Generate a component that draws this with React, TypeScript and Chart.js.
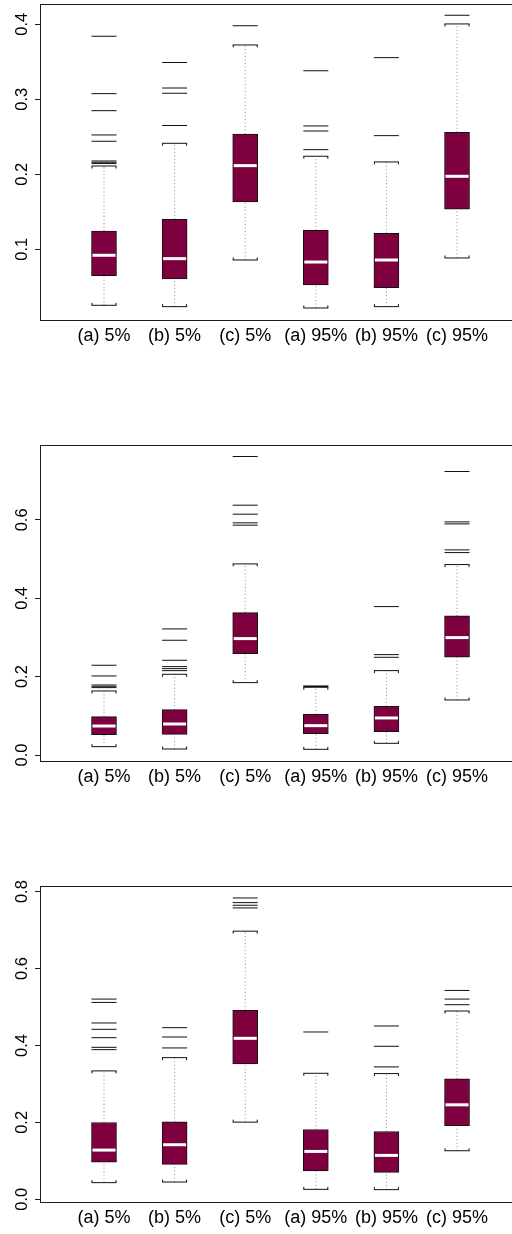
import React, { useEffect, useRef } from 'react';
import { Chart, registerables } from 'chart.js';

Chart.register(...registerables);

const categories = ['(a) 5%', '(b) 5%', '(c) 5%', '(a) 95%', '(b) 95%', '(c) 95%'];

// ---- Panel 1 ----
const p1Low = [0.0253, 0.0235, 0.0857, 0.0217, 0.0235, 0.0884];
const p1Q1 = [0.0648, 0.0604, 0.163, 0.0524, 0.0488, 0.1533];
const p1Med = [0.092, 0.0875, 0.2115, 0.083, 0.0857, 0.1973];
const p1Q3 = [0.1244, 0.14, 0.2537, 0.1253, 0.1213, 0.256];
const p1High = [0.211, 0.2413, 0.3724, 0.224, 0.2164, 0.4004];
const p1Out = [
  [0.384, 0.3075, 0.2848, 0.2524, 0.244, 0.2177, 0.216, 0.2143],
  [0.349, 0.315, 0.308, 0.265],
  [0.398],
  [0.338, 0.2644, 0.2577, 0.2328],
  [0.3555, 0.2515],
  [0.412],
];
const p1Ticks = [0.1, 0.2, 0.3, 0.4];
const p1Min = 0.0057;
const p1Max = 0.427;

// ---- Panel 2 ----
const p2Low = [0.0213, 0.0153, 0.1847, 0.0145, 0.0298, 0.1404];
const p2Q1 = [0.0519, 0.0527, 0.2587, 0.0545, 0.0596, 0.2494];
const p2Med = [0.074, 0.0791, 0.297, 0.0749, 0.0945, 0.2996];
const p2Q3 = [0.0979, 0.1157, 0.3634, 0.1038, 0.1242, 0.3549];
const p2High = [0.1634, 0.206, 0.4876, 0.1728, 0.2153, 0.4859];
const p2Out = [
  [0.229, 0.2017, 0.1787, 0.1753, 0.172],
  [0.3217, 0.2928, 0.2417, 0.2255, 0.2204, 0.2153],
  [0.7616, 0.6374, 0.6145, 0.5923, 0.5864],
  [0.1762, 0.1748],
  [0.3787, 0.2561, 0.2493],
  [0.7234, 0.5948, 0.5897, 0.5234, 0.5165],
];
const p2Ticks = [0.0, 0.2, 0.4, 0.6];
const p2Min = -0.0153;
const p2Max = 0.791;

// ---- Panel 3 ----
const p3Low = [0.0433, 0.0449, 0.2006, 0.0259, 0.0251, 0.1263];
const p3Q1 = [0.0968, 0.0908, 0.3521, 0.0735, 0.0701, 0.1912];
const p3Med = [0.128, 0.1419, 0.4186, 0.1245, 0.1142, 0.2457];
const p3Q3 = [0.1998, 0.2016, 0.4912, 0.1816, 0.1764, 0.3131];
const p3High = [0.3339, 0.3684, 0.6972, 0.3277, 0.3269, 0.4896];
const p3Out = [
  [0.5207, 0.512, 0.4585, 0.442, 0.4203, 0.3952, 0.3892],
  [0.4463, 0.422, 0.3936],
  [0.7836, 0.7715, 0.7646, 0.7577],
  [0.4351],
  [0.4507, 0.3979, 0.3443],
  [0.5431, 0.5207, 0.506],
];
const p3Ticks = [0.0, 0.2, 0.4, 0.6, 0.8];
const p3Min = -0.007;
const p3Max = 0.8147;

const FONT = "'Liberation Sans', Arial, Helvetica, sans-serif";
const BOX_FILL = '#7f003f';

type Panel = {
  low: number[]; q1: number[]; med: number[]; q3: number[]; high: number[];
  out: number[][]; ticks: number[]; min: number; max: number; top: number;
};

const PAD_TOP = 20;
const PLOT_H = 316;

const panels: Panel[] = [
  { low: p1Low, q1: p1Q1, med: p1Med, q3: p1Q3, high: p1High, out: p1Out, ticks: p1Ticks, min: p1Min, max: p1Max, top: 4 - PAD_TOP },
  { low: p2Low, q1: p2Q1, med: p2Med, q3: p2Q3, high: p2High, out: p2Out, ticks: p2Ticks, min: p2Min, max: p2Max, top: 445 - PAD_TOP },
  { low: p3Low, q1: p3Q1, med: p3Med, q3: p3Q3, high: p3High, out: p3Out, ticks: p3Ticks, min: p3Min, max: p3Max, top: 886 - PAD_TOP },
];

const CANVAS_W = 530;
const CANVAS_H = 366;

const framePlugin = {
  id: 'frame',
  afterDraw(chart: any) {
    const { ctx, chartArea } = chart;
    ctx.save();
    ctx.strokeStyle = '#1a1a1a';
    ctx.lineWidth = 1;
    ctx.strokeRect(
      Math.round(chartArea.left) + 0.5,
      Math.round(chartArea.top) + 0.5,
      Math.round(chartArea.right - chartArea.left),
      Math.round(chartArea.bottom - chartArea.top)
    );
    ctx.restore();
  },
};

// small bracket ends on the whisker caps
const capEndsPlugin = {
  id: 'capEnds',
  afterDatasetsDraw(chart: any, _args: any, opts: any) {
    const { ctx, scales } = chart;
    const low: number[] = opts.low || [];
    const high: number[] = opts.high || [];
    ctx.save();
    ctx.strokeStyle = '#111';
    ctx.lineWidth = 1;
    const half = 12.5;
    const draw = (v: number, i: number, dir: number) => {
      const x = scales.x.getPixelForValue(i + 1);
      const y = scales.y.getPixelForValue(v);
      ctx.beginPath();
      ctx.moveTo(x - half + 0.5, y);
      ctx.lineTo(x - half + 0.5, y + dir * 2.5);
      ctx.moveTo(x + half - 0.5, y);
      ctx.lineTo(x + half - 0.5, y + dir * 2.5);
      ctx.stroke();
    };
    high.forEach((v, i) => draw(v, i, 1));
    low.forEach((v, i) => draw(v, i, -1));
    ctx.restore();
  },
};

function BoxPanel({ p }: { p: Panel }) {
  const ref = useRef<HTMLCanvasElement | null>(null);
  useEffect(() => {
    if (!ref.current) return;
    const boxes = categories.map((_, i) => ({ x: i + 1, y: [p.q1[i], p.q3[i]] }));
    const medians = categories.map((_, i) => ({ x: i + 1, y: p.med[i] }));
    const caps = categories.flatMap((_, i) => [
      { x: i + 1, y: p.low[i] },
      { x: i + 1, y: p.high[i] },
    ]);
    const outliers = p.out.flatMap((arr, i) => arr.map((v) => ({ x: i + 1, y: v })));
    const whiskers = categories.flatMap((_, i) => [
      { x: i + 1, y: p.low[i] },
      { x: i + 1, y: p.q1[i] },
      { x: i + 1, y: null },
      { x: i + 1, y: p.q3[i] },
      { x: i + 1, y: p.high[i] },
      { x: i + 1, y: null },
    ]);

    const chart = new Chart(ref.current, {
      type: 'bar',
      data: {
        datasets: [
          {
            type: 'scatter',
            data: medians,
            pointStyle: 'line',
            radius: 11.5,
            borderWidth: 3,
            borderColor: '#ffffff',
            backgroundColor: '#ffffff',
            order: 0,
          } as any,
          {
            type: 'scatter',
            data: caps,
            pointStyle: 'line',
            radius: 12.5,
            borderWidth: 1,
            borderColor: '#111111',
            order: 1,
          } as any,
          {
            type: 'scatter',
            data: outliers,
            pointStyle: 'line',
            radius: 12.5,
            borderWidth: 1,
            borderColor: '#111111',
            order: 1,
          } as any,
          {
            type: 'bar',
            data: boxes,
            backgroundColor: BOX_FILL,
            borderColor: '#111111',
            borderWidth: 1,
            borderSkipped: false,
            barThickness: 25,
            order: 2,
          } as any,
          {
            type: 'line',
            data: whiskers,
            borderColor: '#8a8a8a',
            borderWidth: 1,
            borderDash: [1, 2.5],
            pointRadius: 0,
            spanGaps: false,
            fill: false,
            order: 3,
          } as any,
        ],
      },
      options: {
        responsive: false,
        animation: false,
        devicePixelRatio: 1,
        layout: { autoPadding: false, padding: { top: PAD_TOP, right: 16, bottom: 0, left: 0 } },
        plugins: {
          legend: { display: false },
          tooltip: { enabled: false },
          capEnds: { low: p.low, high: p.high },
        } as any,
        scales: {
          x: {
            type: 'linear',
            min: 0.0935,
            max: 6.807,
            offset: false,
            grid: { display: false, drawTicks: false },
            border: { display: false },
            afterBuildTicks: (scale: any) => {
              scale.ticks = categories.map((_, i) => ({ value: i + 1 }));
            },
            afterFit: (scale: any) => {
              scale.height = CANVAS_H - PAD_TOP - PLOT_H;
              scale.paddingLeft = 0;
              scale.paddingRight = 0;
            },
            ticks: {
              autoSkip: false,
              maxRotation: 0,
              minRotation: 0,
              padding: 5,
              color: '#000',
              font: { family: FONT, size: 18 },
              callback: (v: any) => categories[Math.round(Number(v)) - 1] ?? '',
            },
          },
          y: {
            type: 'linear',
            min: p.min,
            max: p.max,
            grid: {
              display: true,
              drawOnChartArea: false,
              drawTicks: true,
              tickLength: 5,
              color: '#1a1a1a',
            },
            border: { display: false },
            afterBuildTicks: (scale: any) => {
              scale.ticks = p.ticks.map((v) => ({ value: v }));
            },
            afterFit: (scale: any) => {
              scale.width = 40;
              scale.paddingTop = 0;
              scale.paddingBottom = 0;
            },
            ticks: {
              minRotation: 90,
              maxRotation: 90,
              crossAlign: 'center',
              padding: 1,
              color: '#000',
              font: { family: FONT, size: 16.5 },
              callback: (v: any) => Number(v).toFixed(1),
            },
          },
        },
      } as any,
      plugins: [framePlugin, capEndsPlugin],
    });
    return () => chart.destroy();
  }, [p]);

  return (
    <div style={{ position: 'absolute', left: 0, top: p.top, width: CANVAS_W, height: CANVAS_H }}>
      <canvas ref={ref} width={CANVAS_W} height={CANVAS_H} />
    </div>
  );
}

export default function App() {
  return (
    <div
      style={{
        position: 'fixed',
        left: 0,
        top: 0,
        width: 512,
        height: 1234,
        overflow: 'hidden',
        background: '#ffffff',
      }}
    >
      {panels.map((p, i) => (
        <BoxPanel key={i} p={p} />
      ))}
    </div>
  );
}
